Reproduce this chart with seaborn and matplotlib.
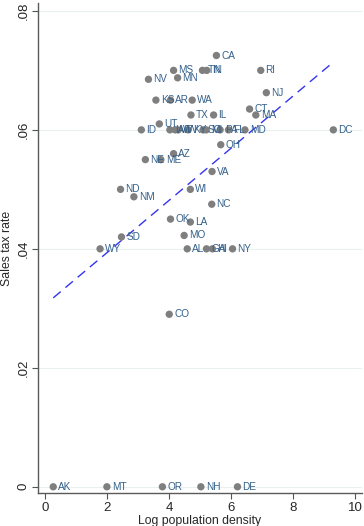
import matplotlib
matplotlib.use('Agg')
import matplotlib.pyplot as plt
import matplotlib.ticker as mticker
import numpy as np
import pandas as pd
import seaborn as sns

# state codes, log population density, sales tax rate
states = ['AK', 'MT', 'OR', 'NH', 'DE', 'CO', 'WY', 'AL', 'GA', 'HI',
          'NY', 'SD', 'MO', 'LA', 'OK', 'NC', 'NM', 'ND', 'WI', 'VA',
          'NE', 'ME', 'AZ', 'OH', 'ID', 'IA', 'VT', 'WV', 'KY', 'SC',
          'MI', 'PA', 'FL', 'MD', 'DC', 'UT', 'TX', 'IL', 'MA', 'CT',
          'KS', 'AR', 'WA', 'NJ', 'NV', 'MN', 'MS', 'TN', 'IN', 'RI', 'CA']
log_density = [0.27, 2.00, 3.79, 5.03, 6.21, 4.01, 1.78, 4.59, 5.21, 5.40,
               6.05, 2.47, 4.49, 4.69, 4.05, 5.38, 2.87, 2.44, 4.69, 5.39,
               3.24, 3.74, 4.15, 5.67, 3.11, 4.03, 4.20, 4.30, 4.62, 5.10,
               5.20, 5.65, 5.92, 6.45, 9.30, 3.69, 4.71, 5.44, 6.80, 6.60,
               3.58, 4.05, 4.75, 7.14, 3.34, 4.28, 4.15, 5.08, 5.22, 6.96, 5.53]
tax_rate = [0.0, 0.0, 0.0, 0.0, 0.0, 0.029, 0.04, 0.04, 0.04, 0.04,
            0.04, 0.042, 0.04225, 0.0445, 0.045, 0.0475, 0.04875, 0.05, 0.05, 0.053,
            0.055, 0.055, 0.056, 0.0575, 0.06, 0.06, 0.06, 0.06, 0.06, 0.06,
            0.06, 0.06, 0.06, 0.06, 0.06, 0.061, 0.0625, 0.0625, 0.0625, 0.0635,
            0.065, 0.065, 0.065, 0.06625, 0.0685, 0.06875, 0.07, 0.07, 0.07, 0.07, 0.0725]

df = pd.DataFrame({'state': states, 'logdens': log_density, 'tax': tax_rate})

sns.set_style('white')
plt.rcParams['font.family'] = ['Liberation Sans', 'DejaVu Sans']

fig = plt.figure(figsize=(3.64, 5.26), dpi=100)
ax = fig.add_axes([0.104, 0.062, 0.891, 0.932])

# faint Stata-like grid
for v in [0, 0.02, 0.04, 0.06, 0.08]:
    ax.axhline(v, color='#e9f0f0', lw=0.8, zorder=0)

sns.scatterplot(data=df, x='logdens', y='tax', ax=ax, color='#7f7f7f',
                s=28, edgecolor='none', zorder=3)
for _, r in df.iterrows():
    ax.annotate(r['state'], (r['logdens'], r['tax']), xytext=(3.5, 0),
                textcoords='offset points', va='center', ha='left',
                fontsize=7.2, color='#33608a', zorder=4)

# fitted line
sns.regplot(data=df, x='logdens', y='tax', ax=ax, scatter=False, ci=None,
            line_kws={'color': '#3434f0', 'lw': 1.0, 'ls': (0, (7, 4.5))})

ax.set_xlim(-0.226, 10.23)
ax.set_ylim(-0.00111, 0.0813)
ax.set_xticks([0, 2, 4, 6, 8, 10])
ax.set_yticks([0, 0.02, 0.04, 0.06, 0.08])
ax.yaxis.set_major_formatter(mticker.FuncFormatter(
    lambda v, p: '0' if v == 0 else f'{v:.2f}'.lstrip('0')))
for lab in ax.get_yticklabels():
    lab.set_rotation(90)
    lab.set_va('center')
ax.tick_params(axis='both', labelsize=9.5, length=4, width=0.8, color='#555555',
               direction='out', pad=2, bottom=True, left=True)
for side in ['top', 'right']:
    ax.spines[side].set_visible(False)
for side in ['left', 'bottom']:
    ax.spines[side].set_color('#5a5a5a')
    ax.spines[side].set_linewidth(1.0)

ax.set_xlabel('Log population density', fontsize=8.8, labelpad=1)
ax.set_ylabel('Sales tax rate', fontsize=8.8, labelpad=3)

fig.savefig('out.png', dpi=100)
